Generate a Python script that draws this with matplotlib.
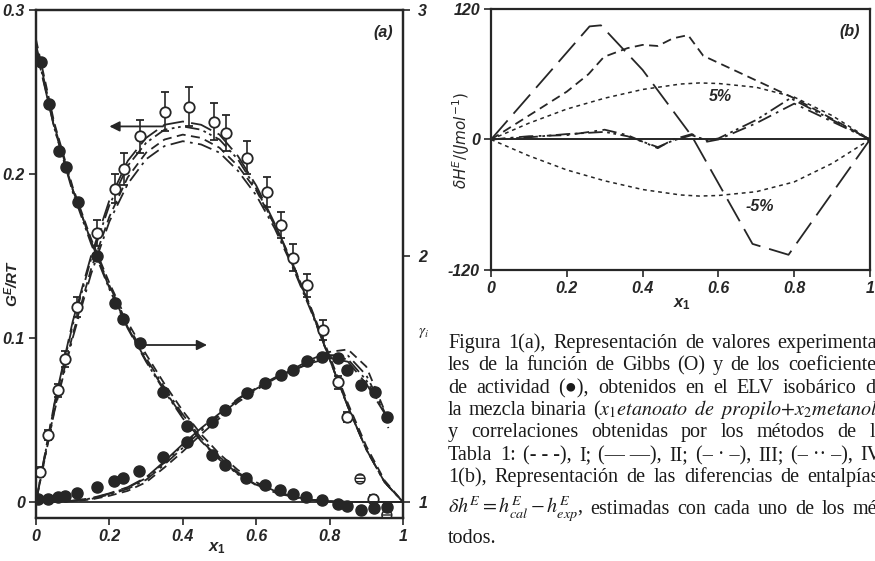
import matplotlib
matplotlib.use('Agg')
import matplotlib.pyplot as plt

plt.rcParams['font.family'] = ['Liberation Sans', 'DejaVu Sans']
plt.rcParams['mathtext.fontset'] = 'custom'
plt.rcParams['mathtext.it'] = 'Liberation Sans:italic:bold'
plt.rcParams['mathtext.rm'] = 'Liberation Sans:bold'
plt.rcParams['mathtext.bf'] = 'Liberation Sans:bold'

# ---- datos panel (a): G^E/RT experimental (circulos abiertos) ----
ge_x = [0.011, 0.034, 0.059, 0.079, 0.113, 0.167, 0.215, 0.240, 0.283, 0.351, 0.417,
        0.485, 0.517, 0.576, 0.629, 0.667, 0.701, 0.738, 0.781, 0.824, 0.847, 0.919]
ge_y = [0.018, 0.041, 0.068, 0.087, 0.119, 0.164, 0.191, 0.203, 0.223, 0.238, 0.241,
        0.232, 0.225, 0.210, 0.189, 0.169, 0.149, 0.132, 0.105, 0.073, 0.052, 0.002]
ge_err = [0.003, 0.003, 0.004, 0.005, 0.006, 0.008, 0.009, 0.010, 0.010, 0.012, 0.012,
          0.011, 0.011, 0.010, 0.009, 0.008, 0.008, 0.007, 0.006, 0.004, 0.003, 0.002]
# puntos rayados
hatch_x = [0.883, 0.956]
hatch_y = [0.014, -0.008]

# coeficientes de actividad (circulos llenos), eje derecho
g1_x = [0.013, 0.035, 0.063, 0.081, 0.114, 0.167, 0.215, 0.238, 0.283, 0.347, 0.412, 0.479,
        0.515, 0.572, 0.624, 0.665, 0.699, 0.736, 0.778, 0.824, 0.848, 0.885, 0.921, 0.957]
g1_y = [2.790, 2.618, 2.428, 2.363, 2.221, 2.000, 1.808, 1.743, 1.645, 1.448, 1.310, 1.191,
        1.150, 1.099, 1.069, 1.049, 1.031, 1.019, 1.008, 0.992, 0.984, 0.967, 0.976, 0.980]
g2_x = [0.006, 0.034, 0.059, 0.079, 0.113, 0.167, 0.213, 0.238, 0.282, 0.347, 0.412, 0.479,
        0.515, 0.574, 0.624, 0.667, 0.699, 0.738, 0.778, 0.824, 0.847, 0.885, 0.924, 0.957]
g2_y = [1.011, 1.011, 1.019, 1.024, 1.038, 1.062, 1.087, 1.096, 1.127, 1.184, 1.245, 1.326,
        1.374, 1.442, 1.483, 1.516, 1.537, 1.574, 1.591, 1.584, 1.537, 1.476, 1.448, 1.347]

# correlaciones (metodos I-IV)
cx = [0, 0.05, 0.1, 0.15, 0.2, 0.25, 0.3, 0.35, 0.4, 0.45, 0.5,
      0.55, 0.6, 0.65, 0.7, 0.75, 0.8, 0.85, 0.9, 0.95, 1.0]
ge_I = [0, 0.056, 0.102, 0.142, 0.174, 0.198, 0.213, 0.221, 0.224, 0.222, 0.216,
        0.205, 0.190, 0.169, 0.145, 0.118, 0.089, 0.060, 0.034, 0.013, 0]
ge_II = [0, 0.060, 0.110, 0.150, 0.184, 0.208, 0.222, 0.230, 0.232, 0.230, 0.224,
         0.211, 0.193, 0.170, 0.145, 0.117, 0.087, 0.058, 0.032, 0.012, 0]
ge_III = [0, 0.055, 0.100, 0.139, 0.171, 0.194, 0.209, 0.217, 0.220, 0.218, 0.213,
          0.202, 0.187, 0.167, 0.143, 0.116, 0.087, 0.058, 0.032, 0.012, 0]
ge_IV = [0, 0.059, 0.108, 0.148, 0.181, 0.205, 0.219, 0.227, 0.229, 0.227, 0.221,
         0.209, 0.191, 0.169, 0.144, 0.117, 0.087, 0.058, 0.032, 0.012, 0]
gam1_I = [2.88, 2.54, 2.28, 2.07, 1.89, 1.73, 1.60, 1.48, 1.37, 1.275, 1.195,
          1.13, 1.08, 1.045, 1.022, 1.009, 1.003, 1.0, 1.0, 1.0, 1.0]
gam1_II = [2.84, 2.52, 2.27, 2.06, 1.87, 1.71, 1.575, 1.455, 1.345, 1.25, 1.175,
           1.115, 1.07, 1.04, 1.02, 1.008, 1.002, 1.0, 1.0, 1.0, 1.0]
gam1_III = [2.86, 2.53, 2.27, 2.06, 1.88, 1.72, 1.585, 1.465, 1.355, 1.26, 1.183,
            1.12, 1.074, 1.042, 1.021, 1.008, 1.002, 1.0, 1.0, 1.0, 1.0]
gam1_IV = [2.85, 2.52, 2.26, 2.05, 1.865, 1.705, 1.57, 1.45, 1.34, 1.247, 1.172,
           1.112, 1.068, 1.039, 1.02, 1.008, 1.002, 1.0, 1.0, 1.0, 1.0]
c2x = [0, 0.05, 0.1, 0.15, 0.2, 0.25, 0.3, 0.35, 0.4, 0.45, 0.5,
       0.55, 0.6, 0.65, 0.7, 0.75, 0.8, 0.85, 0.9, 0.95, 0.96]
gam2_I = [1.0, 1.0, 1.003, 1.01, 1.025, 1.045, 1.08, 1.14, 1.205, 1.275, 1.34,
          1.405, 1.455, 1.50, 1.54, 1.58, 1.61, 1.62, 1.55, 1.37, 1.30]
gam2_II = [1.0, 1.0, 1.005, 1.015, 1.035, 1.06, 1.10, 1.165, 1.235, 1.30, 1.36,
           1.42, 1.465, 1.505, 1.535, 1.565, 1.585, 1.57, 1.48, 1.36, 1.335]
gam2_III = [1.0, 1.0, 1.004, 1.012, 1.03, 1.053, 1.09, 1.152, 1.22, 1.288, 1.35,
            1.412, 1.46, 1.502, 1.537, 1.572, 1.597, 1.595, 1.515, 1.365, 1.32]
gam2_IV = [1.0, 1.0, 1.005, 1.014, 1.033, 1.058, 1.097, 1.16, 1.23, 1.296, 1.356,
           1.417, 1.463, 1.504, 1.536, 1.567, 1.59, 1.58, 1.495, 1.362, 1.33]

# flechas (x inicio, x fin, nivel G^E/RT)
arrow_left = (0.346, 0.200, 0.229)
arrow_right = (0.283, 0.466, 0.0957)

# ---- datos panel (b): dH^E ----
hI_x = [0, 0.1, 0.2, 0.257, 0.298, 0.36, 0.40, 0.44, 0.48, 0.52, 0.56, 0.8, 1.0]
hI_y = [0, 22, 44, 60, 76, 84, 87, 86, 93, 96, 77, 38, 0]
hII_x = [0, 0.26, 0.29, 0.40, 0.53, 0.69, 0.785, 1.0]
hII_y = [0, 104, 105, 64, 3, -96, -106, 0]
hIII_x = [0, 0.1, 0.2, 0.3, 0.36, 0.44, 0.48, 0.53, 0.57, 0.6, 0.7, 0.8, 1.0]
hIII_y = [0, 3, 4, 9, 4, -8, 0, 5, -2, 0, 15, 33, 0]
hIV_x = [0, 0.1, 0.2, 0.3, 0.36, 0.44, 0.48, 0.53, 0.57, 0.6, 0.7, 0.79, 1.0]
hIV_y = [0, 2, 5, 7, 3, -7, -1, 4, -1, 1, 18, 38, 0]
p5_x = [0, 0.1, 0.2, 0.3, 0.4, 0.5, 0.55, 0.6, 0.7, 0.8, 0.9, 1.0]
p5_y = [0, 15, 28, 38, 46, 51, 52, 51.5, 48, 39, 22, 0]

ink = '#262626'
bi = dict(fontweight='bold', fontstyle='italic')
W, H = 875, 561
tfs = 11.5

fig = plt.figure(figsize=(8.75, 5.61), dpi=100)
axa = fig.add_axes([36 / W, 1 - 518 / H, 367 / W, 508 / H])
axg = axa.twinx()
axb = fig.add_axes([491 / W, 1 - 270 / H, 379 / W, 261 / H])

# ------------------ panel (a) ------------------
axa.set_xlim(0, 1)
axa.set_ylim(-0.0098, 0.3)
axg.set_ylim(1 - 0.0098 / 0.15, 3)
axa.axhline(0, color=ink, lw=1.3)

styles = {
    'I': (0, (5, 3)),
    'II': (0, (12, 4)),
    'III': (0, (8, 3, 1.5, 3)),
    'IV': (0, (8, 2.5, 1.5, 2, 1.5, 2.5)),
}
for y, k in [(ge_I, 'I'), (ge_II, 'II'), (ge_III, 'III'), (ge_IV, 'IV')]:
    axa.plot(cx, y, color=ink, lw=1.3, linestyle=styles[k])
for y, k in [(gam1_I, 'I'), (gam1_II, 'II'), (gam1_III, 'III'), (gam1_IV, 'IV')]:
    axg.plot(cx, y, color=ink, lw=1.3, linestyle=styles[k])
for y, k in [(gam2_I, 'I'), (gam2_II, 'II'), (gam2_III, 'III'), (gam2_IV, 'IV')]:
    axg.plot(c2x, y, color=ink, lw=1.3, linestyle=styles[k])

axa.errorbar(ge_x, ge_y, yerr=ge_err, fmt='o', mfc='white', mec=ink, ecolor=ink,
             ms=7.5, mew=1.3, capsize=3, elinewidth=1.2, capthick=1.4, zorder=5)
axa.scatter(hatch_x, hatch_y, s=50, facecolor='white', edgecolor=ink, hatch='-----',
            lw=1.1, zorder=5)
axg.plot(g1_x, g1_y, 'o', color=ink, ms=8, zorder=5)
axg.plot(g2_x, g2_y, 'o', color=ink, ms=8, zorder=5)

for x0, x1, yy in [arrow_left, arrow_right]:
    axa.annotate('', xy=(x1, yy), xytext=(x0, yy),
                 arrowprops=dict(arrowstyle='-|>', color=ink, lw=1.3,
                                 mutation_scale=15, shrinkA=0, shrinkB=0))

axa.set_xticks([0, 0.2, 0.4, 0.6, 0.8, 1])
axa.set_xticklabels(['0', '0.2', '0.4', '0.6', '0.8', '1'], **bi)
axa.set_yticks([0, 0.1, 0.2, 0.3])
axa.set_yticklabels(['0', '0.1', '0.2', '0.3'], **bi)
axg.set_yticks([1, 2, 3])
axg.set_yticklabels(['1', '2', '3'], **bi)
axa.tick_params(direction='out', length=5, width=1.2, labelsize=tfs, colors=ink, pad=3)
axg.tick_params(direction='out', length=5, width=1.2, labelsize=tfs, colors=ink, pad=6)
for ax in (axa, axg, axb):
    for s in ax.spines.values():
        s.set_linewidth(1.6)
        s.set_color(ink)

fig.text(12 / W, 1 - 283 / H, r'G$^E$/RT', rotation=90, ha='center', va='center',
         fontsize=11, color=ink, **bi)
fig.text(217 / W, 1 - 548 / H, r'$x_1$', ha='center', va='center', fontsize=12, color=ink)
fig.text(383 / W, 1 - 32 / H, '(a)', ha='center', va='center', fontsize=11.5, color=ink, **bi)
fig.text(424 / W, 1 - 333 / H, r'$\gamma_i$', ha='center', va='center', fontsize=11,
         color=ink, math_fontfamily='stix')

# ------------------ panel (b) ------------------
axb.set_xlim(0, 1)
axb.set_ylim(-120, 120)
axb.axhline(0, color=ink, lw=1.4)
axb.plot(p5_x, p5_y, color=ink, lw=1.1, linestyle=(0, (2.5, 2.5)))
axb.plot(p5_x, [-v for v in p5_y], color=ink, lw=1.1, linestyle=(0, (2.5, 2.5)))
axb.plot(hI_x, hI_y, color=ink, lw=1.3, linestyle=styles['I'])
axb.plot(hII_x, hII_y, color=ink, lw=1.3, linestyle=(0, (14, 5)))
axb.plot(hIII_x, hIII_y, color=ink, lw=1.3, linestyle=styles['III'])
axb.plot(hIV_x, hIV_y, color=ink, lw=1.3, linestyle=styles['IV'])

axb.set_xticks([0, 0.2, 0.4, 0.6, 0.8, 1])
axb.set_xticklabels(['0', '0.2', '0.4', '0.6', '0.8', '1'], **bi)
axb.set_yticks([-120, 0, 120])
axb.set_yticklabels(['-120', '0', '120'], **bi)
axb.tick_params(direction='out', length=5, width=1.2, labelsize=tfs, colors=ink, pad=3)

axb.text(0.604, 39.6, '5%', ha='center', va='center', fontsize=11.5, color=ink, **bi)
axb.text(0.71, -62, '-5%', ha='center', va='center', fontsize=11.5, color=ink, **bi)
axb.text(0.947, 99, '(b)', ha='center', va='center', fontsize=11.5, color=ink, **bi)
fig.text(461 / W, 1 - 140 / H, r'$\delta H^E/(Jmol^{-1})$', rotation=90, ha='center',
         va='center', fontsize=11, color=ink, math_fontfamily='dejavusans')
fig.text(682 / W, 1 - 304 / H, r'$x_1$', ha='center', va='center', fontsize=12, color=ink)

# ------------------ pie de figura (justificado) ------------------
nb = '\u00a0'
caption = [
    "Figura 1(a), Representación de valores experimenta-".split(' '),
    "les de la función de Gibbs (O) y de los coeficientes".split(' '),
    "de actividad (\u25cf), obtenidos en el ELV isobárico de".split(' '),
    ["la", "mezcla", "binaria", r"($x_1etanoato$", r"$de$", r"$propilo\mathrm{+}x_2metanol$)"],
    "y correlaciones obtenidas por los métodos de la".split(' '),
    ("Tabla 1: (-" + nb + "-" + nb + "-), I; (\u2014" + nb + "\u2014), II; (\u2013" + nb + "\u00b7"
     + nb + "\u2013), III; (\u2013" + nb + "\u00b7\u00b7" + nb + "\u2013), IV.").split(' '),
    "1(b), Representación de las diferencias de entalpías,".split(' '),
    [r"$\delta h^E = h^E_{cal} - h^E_{exp}$,", "estimadas", "con", "cada", "uno", "de", "los", "mé-"],
    ["todos."],
]
baselines = [348, 370, 393, 415, 437, 460, 482, 514, 543]
X0, X1 = 448, 884
renderer = fig.canvas.get_renderer()
for i, (tokens, yb) in enumerate(zip(caption, baselines)):
    objs = [fig.text(0, 1 - yb / H, t, fontsize=14.5, family=['Liberation Serif', 'DejaVu Serif'],
                     math_fontfamily='stix', va='baseline', ha='left', color='#1a1a1a')
            for t in tokens]
    widths = [o.get_window_extent(renderer).width for o in objs]
    if i < len(caption) - 1 and len(objs) > 1:
        gap = max((X1 - X0 - sum(widths)) / (len(objs) - 1), 2.0)
    else:
        gap = 5
    x = X0
    for o, w in zip(objs, widths):
        o.set_x(x / W)
        x += w + gap

fig.savefig('out.png', dpi=100)
